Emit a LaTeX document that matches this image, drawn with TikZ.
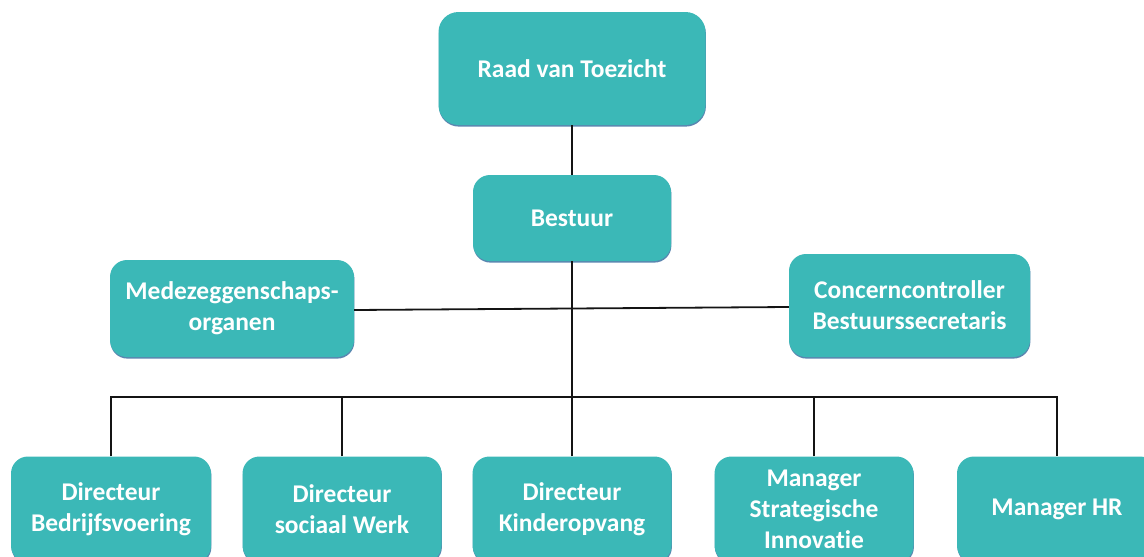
\documentclass[tikz,border=0pt]{standalone}
\usepackage{fontspec}
\setmainfont[Ligatures=NoCommon]{Carlito}
\definecolor{boxfill}{HTML}{3BB8B7}
\definecolor{boxedge}{HTML}{5A86B0}
\definecolor{lineclr}{HTML}{141414}
\begin{document}
\begin{tikzpicture}[x=1pt,y=-1pt,
  orgbox/.style={fill=boxfill, rounded corners=17pt, inner sep=0pt,
    align=center, text=white, font=\fontsize{25.5}{31}\selectfont\bfseries,
    preaction={fill=boxedge, transform canvas={shift={(0.4pt,-1.6pt)}}}},
  conn/.style={draw=lineclr, line width=1.8pt}]
\useasboundingbox (0,0) rectangle (1144,557);
\clip (0,0) rectangle (1144,557);
\node[orgbox, minimum width=267pt, minimum height=113pt, rounded corners=20pt] (raad) at (572,68.5) {Raad van Toezicht};
\node[orgbox, minimum width=198pt, minimum height=86pt] (bestuur) at (572,218) {Bestuur};
\node[orgbox, minimum width=244pt, minimum height=97pt] (mede) at (232,308.5) {Medezeggenschaps-\\organen};
\node[orgbox, minimum width=241pt, minimum height=103pt] (concern) at (909.5,305.5) {Concerncontroller\\Bestuurssecretaris};
\node[orgbox, minimum width=200pt, minimum height=106pt] (b1) at (111,509.5) {Directeur\\Bedrijfsvoering};
\node[orgbox, minimum width=199pt, minimum height=106pt] (b2) at (342,509.5) {Directeur\\sociaal Werk};
\node[orgbox, minimum width=199pt, minimum height=106pt] (b3) at (572,509.5) {Directeur\\Kinderopvang};
\node[orgbox, minimum width=199pt, minimum height=106pt] (b4) at (814,509.5) {Manager\\Strategische\\Innovatie};
\node[orgbox, minimum width=200pt, minimum height=106pt] (b5) at (1057,509.5) {Manager HR};
\coordinate (bus) at (572,397);
\draw[conn] (raad.south) -- (bestuur.north);
\draw[conn] (bestuur.south) -- (bus);
\draw[conn] ([yshift=-1.5pt]mede.east) -- ([yshift=-1.5pt]concern.west);
\draw[conn] (b1.north) |- (b5.north |- bus) -- (b5.north);
\draw[conn] (b2.north) -- (b2.north |- bus);
\draw[conn] (b3.north) -- (b3.north |- bus);
\draw[conn] (b4.north) -- (b4.north |- bus);
\end{tikzpicture}
\end{document}
